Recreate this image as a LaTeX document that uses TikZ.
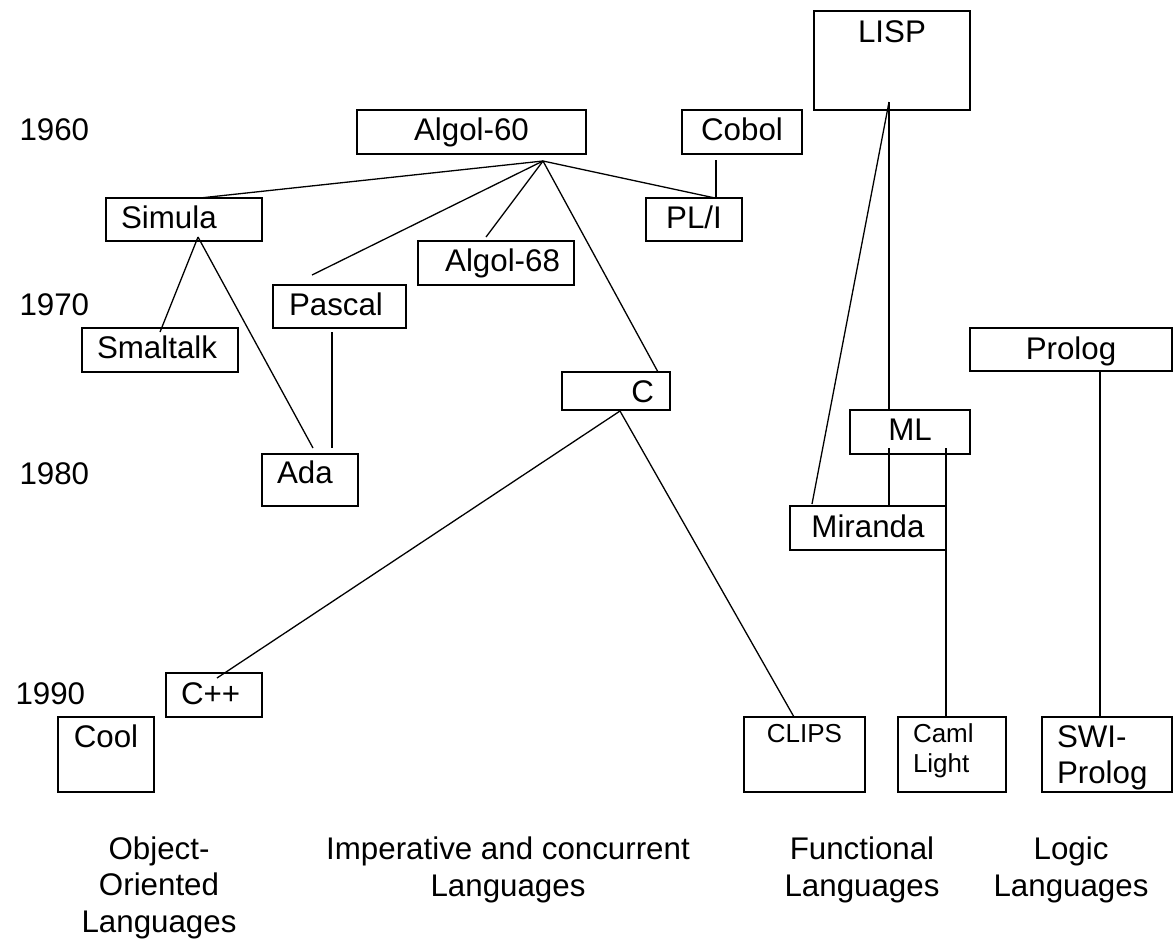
\documentclass[tikz,border=0pt]{standalone}
\usepackage{fontspec}
\setmainfont{Liberation Sans}
\usetikzlibrary{calc}
\newcommand{\langfont}{\fontsize{31.3}{36.5}\selectfont}
\newcommand{\smalllangfont}{\fontsize{26}{30}\selectfont}

\begin{document}
\begin{tikzpicture}[x=1pt,y=-1pt,
  lang/.style={draw,line width=1.6pt,inner xsep=0pt,inner ysep=0pt,outer sep=0pt,anchor=north west,font=\langfont},
  year/.style={anchor=base west,font=\langfont},
  family/.style={anchor=base,align=center,font=\langfont},
  tie/.style={line width=1.3pt}]
  \useasboundingbox (0,0) rectangle (1174,938);

  % years
  \node[year] (y1960) at (16,140) {1960};
  \node[year] (y1970) at (16,315) {1970};
  \node[year] (y1980) at (16,484) {1980};
  \node[year] (y1990) at (12,704) {1990};

  % languages
  \node[lang,text width=229pt,align=center,text height=30pt,text depth=14pt] (algol) at (357,110) {Algol-60};
  \node[lang,text width=120pt,align=center,text height=30pt,text depth=14pt] (cobol) at (682,110) {Cobol};
  \node[lang,text width=156pt,align=center,text height=31pt,text depth=68pt] (lisp) at (814,11) {LISP};
  \node[lang,inner xsep=15pt,text width=126pt,align=left,text height=30pt,text depth=13pt] (simula) at (106,198) {Simula};
  \node[lang,text width=96pt,align=center,text height=30pt,text depth=13pt] (pli) at (646,198) {PL/I};
  \node[lang,inner xsep=14pt,text width=128pt,align=right,text height=30pt,text depth=14pt] (algolsixtyeight) at (418,241) {Algol-68};
  \node[lang,inner xsep=16pt,text width=101pt,align=left,text height=30pt,text depth=13pt] (pascal) at (273,285) {Pascal};
  \node[lang,inner xsep=15pt,text width=126pt,align=left,text height=30pt,text depth=14pt] (smaltalk) at (82,328) {Smaltalk};
  \node[lang,text width=202pt,align=center,text height=31pt,text depth=12pt] (prolog) at (970,328) {Prolog};
  \node[lang,inner xsep=16pt,text width=76pt,align=right,text height=30pt,text depth=8pt] (clang) at (562,372) {C};
  \node[lang,text width=120pt,align=center,text height=30pt,text depth=14pt] (ml) at (850,410) {ML};
  \node[lang,inner xsep=15pt,text width=66pt,align=left,text height=29pt,text depth=23pt] (ada) at (262,454) {Ada};
  \node[lang,text width=156pt,align=center,text height=31pt,text depth=13pt] (miranda) at (790,506) {Miranda};
  \node[lang,inner xsep=15pt,text width=66pt,align=left,text height=31pt,text depth=13pt] (cpp) at (166,673) {C++};
  \node[lang,text width=96pt,align=center,text height=30pt,text depth=45pt] (cool) at (58,717) {Cool};
  \node[lang,font=\smalllangfont,text width=121pt,align=center,text height=25pt,text depth=50pt] (clips) at (744,717) {CLIPS};
  \node[lang,font=\smalllangfont,inner xsep=15pt,text width=78pt,align=left,text height=25pt,text depth=50pt] (caml) at (898,717) {Caml\\Light};
  \node[lang,inner xsep=15pt,text width=100pt,align=left,text height=30pt,text depth=45pt] (swi) at (1042,717) {SWI-\\Prolog};

  % families
  \node[family] (oolabel) at (159,932) {Object-\\Oriented\\Languages};
  \node[family] (implabel) at (508,896) {Imperative and concurrent\\Languages};
  \node[family] (funlabel) at (862,896) {Functional\\Languages};
  \node[family] (logiclabel) at (1071,896) {Logic\\Languages};

  % join points
  \coordinate (algoljoin) at ([xshift=71.5pt,yshift=-7pt]algol.south);
  \coordinate (simulajoin) at ([xshift=14pt,yshift=4pt]simula.south);
  \coordinate (cjoin) at ([xshift=4pt,yshift=-1pt]clang.south);
  \coordinate (lispjoin) at ([xshift=-3pt,yshift=8pt]lisp.south);

  % descent
  \draw[tie] (algoljoin) -- ([xshift=16pt]simula.north);
  \draw[tie] (algoljoin) -- ([xshift=-27.5pt,yshift=10pt]pascal.north);
  \draw[tie] (algoljoin) -- ([xshift=-10pt,yshift=4pt]algolsixtyeight.north);
  \draw[tie] (algoljoin) -- ([xshift=42pt]clang.north);
  \draw[tie] (algoljoin) -- ([xshift=21pt]pli.north);
  \draw[tie] ([xshift=-26pt,yshift=-6pt]cobol.south) -- ([xshift=22pt]pli.north);
  \draw[tie] (simulajoin) -- ([yshift=-4pt]smaltalk.north);
  \draw[tie] (simulajoin) -- ([xshift=3pt,yshift=6pt]ada.north);
  \draw[tie] ([xshift=-7.5pt,yshift=-4pt]pascal.south) -- ([xshift=22pt,yshift=6pt]ada.north);
  \draw[tie] (cjoin) -- ([xshift=3pt,yshift=-5pt]cpp.north);
  \draw[tie] (cjoin) -- ([xshift=-10.5pt]clips.north);
  \draw[tie] (lispjoin) -- ([xshift=-21pt]ml.north);
  \draw[tie] (lispjoin) -- ([xshift=-56pt,yshift=2pt]miranda.north);
  \draw[tie] ([xshift=-21pt,yshift=6pt]ml.south) -- ([xshift=21pt]miranda.north);
  \draw[tie] ([xshift=36pt,yshift=6pt]ml.south) -- ([xshift=-6pt]caml.north);
  \draw[tie] ([xshift=29pt]prolog.south) -- ([xshift=-7pt]swi.north);
\end{tikzpicture}
\end{document}
